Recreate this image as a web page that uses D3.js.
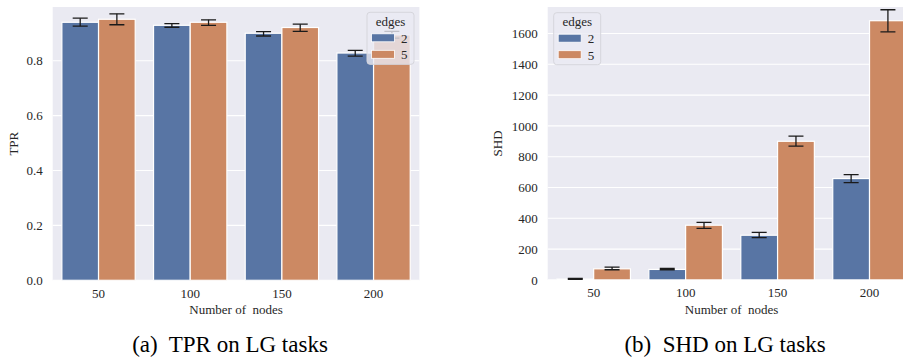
<!DOCTYPE html>
<html>
<head>
<meta charset="utf-8">
<script src="https://cdn.jsdelivr.net/npm/d3@7"></script>
<style>
  html, body { margin: 0; padding: 0; background: #fff; }
  svg { display: block; }
  svg text { font-family: "Liberation Serif", "Times New Roman", Times, "DejaVu Serif", serif !important; fill: #262626; white-space: pre; }
  svg text.cap { fill: #000; }
</style>
</head>
<body>
<svg id="chart" width="903" height="360"></svg>
<script>
// ---- data ----
const nodes = ["50", "100", "150", "200"];
const edges = ["2", "5"];

const tpr2   = [0.940, 0.929, 0.900, 0.828];
const tpr2Lo = [0.926, 0.922, 0.890, 0.817];
const tpr2Hi = [0.955, 0.935, 0.906, 0.838];
const tpr5   = [0.951, 0.940, 0.921, 0.894];
const tpr5Lo = [0.931, 0.929, 0.907, 0.882];
const tpr5Hi = [0.971, 0.949, 0.933, 0.907];

const shd2   = [5, 68, 290, 658];
const shd2Lo = [3, 66, 274, 631];
const shd2Hi = [10, 74, 309, 683];
const shd5   = [72, 355, 900, 1683];
const shd5Lo = [66, 335, 869, 1611];
const shd5Hi = [83, 374, 934, 1754];

const tprTicks = [0.0, 0.2, 0.4, 0.6, 0.8];
const shdTicks = [0, 200, 400, 600, 800, 1000, 1200, 1400, 1600];

const colors = ["#5875A4", "#CC8963"];
const FONT = "Liberation Serif, Times New Roman, serif";

const svg = d3.select("#chart").attr("font-family", FONT);

function panel(opts) {
  const g = svg.append("g");
  const x = d3.scaleBand().domain(nodes).range([opts.x0, opts.x1]).paddingInner(0).paddingOuter(0);
  const xs = d3.scaleBand().domain(edges).range([0, x.bandwidth() * 0.8]);
  const y = d3.scaleLinear().domain(opts.yDomain).range([opts.yBottom, opts.yTop]);

  const clipId = "clip" + opts.id;
  svg.append("clipPath").attr("id", clipId).append("rect")
    .attr("x", opts.x0).attr("y", opts.yTop)
    .attr("width", opts.x1 - opts.x0).attr("height", opts.yBottom - opts.yTop);

  g.append("rect").attr("x", opts.x0).attr("y", opts.yTop)
    .attr("width", opts.x1 - opts.x0).attr("height", opts.yBottom - opts.yTop)
    .attr("fill", "#EAEAF2");

  g.append("g").selectAll("line").data(opts.ticks).join("line")
    .attr("x1", opts.x0).attr("x2", opts.x1)
    .attr("y1", d => y(d)).attr("y2", d => y(d))
    .attr("stroke", "#fff").attr("stroke-width", 1.1);

  const yAxis = d3.axisLeft(y).tickValues(opts.ticks).tickFormat(opts.fmt).tickSize(0).tickPadding(10);
  const ya = g.append("g").attr("transform", `translate(${opts.x0},0)`).call(yAxis)
    .attr("font-family", FONT).attr("font-size", 13);
  ya.select(".domain").remove();
  ya.selectAll("text").attr("fill", "#262626");

  const xAxis = d3.axisBottom(x).tickSize(0).tickPadding(8);
  const xa = g.append("g").attr("transform", `translate(0,${opts.yBottom})`).call(xAxis)
    .attr("font-family", FONT).attr("font-size", 13);
  xa.select(".domain").remove();
  xa.selectAll("text").attr("fill", "#262626");

  const plot = g.append("g").attr("clip-path", `url(#${clipId})`);
  opts.series.forEach((s, si) => {
    const data = nodes.map((n, i) => ({n, v: s.v[i], lo: s.lo[i], hi: s.hi[i]}));
    const off = x.bandwidth() * 0.1;
    plot.append("g").selectAll("rect").data(data).join("rect")
      .attr("x", d => x(d.n) + off + xs(edges[si]))
      .attr("width", xs.bandwidth())
      .attr("y", d => y(d.v))
      .attr("height", d => y(0) - y(d.v))
      .attr("fill", colors[si])
      .attr("stroke", "#fff").attr("stroke-width", 1.2);
    const eg = plot.append("g").attr("stroke", "#1a1a1a").attr("stroke-width", 1.3);
    data.forEach(d => {
      const cx = x(d.n) + off + xs(edges[si]) + xs.bandwidth() / 2;
      eg.append("line").attr("x1", cx).attr("x2", cx).attr("y1", y(d.lo)).attr("y2", y(d.hi));
      eg.append("line").attr("x1", cx - 7.5).attr("x2", cx + 7.5).attr("y1", y(d.lo)).attr("y2", y(d.lo));
      eg.append("line").attr("x1", cx - 7.5).attr("x2", cx + 7.5).attr("y1", y(d.hi)).attr("y2", y(d.hi));
    });
  });

  g.append("text").attr("x", (opts.x0 + opts.x1) / 2).attr("y", 314)
    .attr("text-anchor", "middle").attr("font-size", 13).text("Number of  nodes");
  g.append("text").attr("transform", `translate(${opts.ylabX},${(opts.yTop + opts.yBottom) / 2}) rotate(-90)`)
    .attr("text-anchor", "middle").attr("font-size", 13).text(opts.ylab);

  const lg = g.append("g").attr("transform", `translate(${opts.legX},${opts.legY})`);
  lg.append("rect").attr("x", 0).attr("y", 0).attr("width", 47).attr("height", 52)
    .attr("rx", 3).attr("fill", "#EAEAF2").attr("fill-opacity", 0.8)
    .attr("stroke", "#d6d6dc").attr("stroke-width", 1);
  lg.append("text").attr("x", 23.5).attr("y", 13.5).attr("text-anchor", "middle")
    .attr("font-size", 13).text("edges");
  edges.forEach((e, i) => {
    lg.append("rect").attr("x", 4.5).attr("y", 21.5 + i * 16.5).attr("width", 23).attr("height", 8)
      .attr("fill", colors[i]).attr("stroke", "#fff").attr("stroke-width", 0.8);
    lg.append("text").attr("x", 34).attr("y", 30.5 + i * 16.5).attr("font-size", 13).text(e);
  });

  svg.append("text").attr("class", "cap").attr("x", opts.capX).attr("y", 352).attr("text-anchor", "middle")
    .attr("font-size", 23).text(opts.caption);
}

panel({
  id: "a", x0: 52.7, x1: 419.4, yTop: 7, yBottom: 280.3, yDomain: [0, 0.9957],
  ticks: tprTicks, fmt: d3.format(".1f"), ylab: "TPR", ylabX: 18,
  series: [{v: tpr2, lo: tpr2Lo, hi: tpr2Hi}, {v: tpr5, lo: tpr5Lo, hi: tpr5Hi}],
  legX: 367, legY: 12.3, caption: "(a)  TPR on LG tasks", capX: 230
});
panel({
  id: "b", x0: 547.7, x1: 915.5, yTop: 7, yBottom: 279.9, yDomain: [0, 1772],
  ticks: shdTicks, fmt: d3.format("d"), ylab: "SHD", ylabX: 502,
  series: [{v: shd2, lo: shd2Lo, hi: shd2Hi}, {v: shd5, lo: shd5Lo, hi: shd5Hi}],
  legX: 553.7, legY: 12.7, caption: "(b)  SHD on LG tasks", capX: 725
});
</script>
</body>
</html>
